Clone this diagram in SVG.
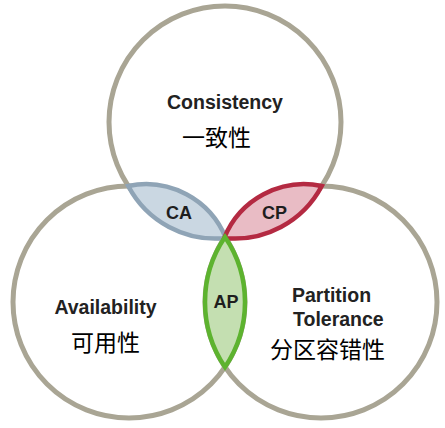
<svg xmlns="http://www.w3.org/2000/svg" width="445" height="428" viewBox="0 0 445 428">
  <style>
    .ring { fill: none; stroke: #a9a594; stroke-width: 5; }
    .lens { stroke-width: 4.5; stroke-linejoin: miter; }
    .en { font-family: "Liberation Sans", Arial, sans-serif; font-weight: bold; font-size: 19.5px; fill: #222222; }
    .lbl { font-family: "Liberation Sans", Arial, sans-serif; font-weight: bold; font-size: 18px; fill: #1e1e1e; text-anchor: middle; }
    .zh { font-family: "Noto Sans CJK SC", "Noto Sans CJK TC", sans-serif; font-size: 23px; fill: #000000; }
  </style>
  <rect x="0" y="0" width="445" height="428" fill="#ffffff"/>

  <g id="consistency">
    <circle class="ring" cx="225" cy="122" r="116"/>
    <text class="en" x="225" y="109" text-anchor="middle">Consistency</text>
    <text class="zh" x="182" y="146">一致性</text>
  </g>

  <g id="availability">
    <circle class="ring" cx="129" cy="302" r="116"/>
    <text class="en" x="105.5" y="314" text-anchor="middle">Availability</text>
    <text class="zh" x="71" y="351">可用性</text>
  </g>

  <g id="partition-tolerance">
    <circle class="ring" cx="321" cy="302" r="116"/>
    <text class="en" x="292" y="302">Partition</text>
    <text class="en" x="293" y="326">Tolerance</text>
    <text class="zh" x="270" y="357.5">分区容错性</text>
  </g>

  <g id="ca">
    <path class="lens" fill="#cad7e2" stroke="#8fa4b6" d="M 128.25 186 A 98.3 98.3 0 0 0 225.75 238 A 86.3 86.3 0 0 0 128.25 186 Z"/>
    <text class="lbl" x="179" y="218.5">CA</text>
  </g>

  <g id="cp">
    <path class="lens" fill="#e9bcc5" stroke="#b42a42" d="M 224.25 238 A 98.3 98.3 0 0 0 321.75 186 A 86.3 86.3 0 0 0 224.25 238 Z"/>
    <text class="lbl" x="274.5" y="218.5">CP</text>
  </g>

  <g id="ap">
    <path class="lens" fill="#c4dfb1" stroke="#5db32f" d="M 225 236.9 A 116 116 0 0 1 225 367.1 A 116 116 0 0 1 225 236.9 Z"/>
    <text class="lbl" x="226" y="307.5">AP</text>
  </g>

  <g id="connectors"/>
</svg>
